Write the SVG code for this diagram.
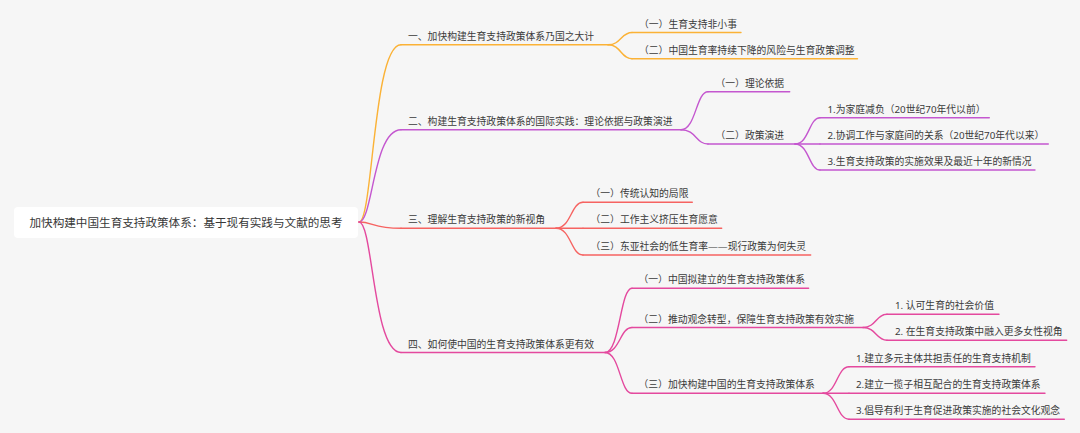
<svg xmlns="http://www.w3.org/2000/svg" width="1080" height="433" viewBox="0 0 1080 433">
<style>
.t{font-family:"Noto Sans","Noto Sans CJK SC",sans-serif;font-size:9.8px;fill:#3a3a3a}
.rt{font-family:"Noto Sans CJK SC","Noto Sans",sans-serif;font-size:11.6px;fill:#383838}
.c path,.u{fill:none;stroke-width:1.4;stroke-linecap:round}
.y{stroke:#fbb236}.p{stroke:#c457cf}.r{stroke:#f66361}.k{stroke:#e4499e}
</style>
<rect width="1080" height="433" fill="#f6f6f6"/>
<g id="connectors" class="c">
<path class="y" d="M359,222 C373,222 373,44.8 401,44.8"/>
<path class="p" d="M359,222 C373,222 373,129.7 401,129.7"/>
<path class="r" d="M359,222 C373,222 373,228.3 401,228.3"/>
<path class="k" d="M359,222 C373,222 373,352.5 401,352.5"/>
<path class="y" d="M608,44.8 C621,44.8 621,32.5 632,32.5"/>
<path class="y" d="M608,44.8 C621,44.8 621,58.7 632,58.7"/>
<path class="p" d="M681,129.7 C696,129.7 696,91.7 708,91.7"/>
<path class="p" d="M681,129.7 C696,129.7 696,144 708,144"/>
<path class="p" d="M795,144 C809,144 809,117.7 820,117.7"/>
<path class="p" d="M795,144 L820,144"/>
<path class="p" d="M795,144 C809,144 809,170 820,170"/>
<path class="r" d="M556,228.3 C571,228.3 571,202.3 583,202.3"/>
<path class="r" d="M556,228.3 L583,228.3"/>
<path class="r" d="M556,228.3 C571,228.3 571,255 583,255"/>
<path class="k" d="M605,352.5 C620,352.5 620,288.3 632,288.3"/>
<path class="k" d="M605,352.5 C620,352.5 620,327.5 632,327.5"/>
<path class="k" d="M605,352.5 C620,352.5 620,393.3 632,393.3"/>
<path class="k" d="M863,327.5 C876,327.5 876,314.3 887,314.3"/>
<path class="k" d="M863,327.5 C876,327.5 876,340.3 887,340.3"/>
<path class="k" d="M823,393.3 C837,393.3 837,366.7 849,366.7"/>
<path class="k" d="M823,393.3 L849,393.3"/>
<path class="k" d="M823,393.3 C837,393.3 837,419.2 849,419.2"/>
</g>
<g id="root">
<rect x="14" y="207" width="344" height="31" rx="4" fill="#ffffff"/>
<text class="rt" x="186" y="227" text-anchor="middle">加快构建中国生育支持政策体系：基于现有实践与文献的思考</text>
</g>
<g id="b1"><line class="u y" x1="401" y1="44.8" x2="608" y2="44.8"/><text class="t" x="408" y="39.8">一、加快构建生育支持政策体系乃国之大计</text></g>
<g id="b1c1"><line class="u y" x1="632" y1="32.5" x2="741" y2="32.5"/><text class="t" x="639" y="27.5">（一）生育支持非小事</text></g>
<g id="b1c2"><line class="u y" x1="632" y1="58.7" x2="857.5" y2="58.7"/><text class="t" x="639" y="53.7">（二）中国生育率持续下降的风险与生育政策调整</text></g>
<g id="b2"><line class="u p" x1="401" y1="129.7" x2="681" y2="129.7"/><text class="t" x="408" y="124.7">二、构建生育支持政策体系的国际实践：理论依据与政策演进</text></g>
<g id="b2c1"><line class="u p" x1="708" y1="91.7" x2="789.7" y2="91.7"/><text class="t" x="715.5" y="86.7">（一）理论依据</text></g>
<g id="b2c2"><line class="u p" x1="708" y1="144" x2="795" y2="144"/><text class="t" x="715.5" y="139">（二）政策演进</text></g>
<g id="b2c2g1"><line class="u p" x1="820" y1="117.7" x2="989.3" y2="117.7"/><text class="t" x="827.5" y="112.7">1.为家庭减负（20世纪70年代以前）</text></g>
<g id="b2c2g2"><line class="u p" x1="820" y1="144" x2="1048.3" y2="144"/><text class="t" x="827.5" y="139">2.协调工作与家庭间的关系（20世纪70年代以来）</text></g>
<g id="b2c2g3"><line class="u p" x1="820" y1="170" x2="1035" y2="170"/><text class="t" x="827.5" y="165">3.生育支持政策的实施效果及最近十年的新情况</text></g>
<g id="b3"><line class="u r" x1="401" y1="228.3" x2="556" y2="228.3"/><text class="t" x="408" y="223.3">三、理解生育支持政策的新视角</text></g>
<g id="b3c1"><line class="u r" x1="583" y1="202.3" x2="692.3" y2="202.3"/><text class="t" x="590.5" y="197.3">（一）传统认知的局限</text></g>
<g id="b3c2"><line class="u r" x1="583" y1="228.3" x2="721.7" y2="228.3"/><text class="t" x="590.5" y="223.3">（二）工作主义挤压生育愿意</text></g>
<g id="b3c3"><line class="u r" x1="583" y1="255" x2="810.7" y2="255"/><text class="t" x="590.5" y="250">（三）东亚社会的低生育率——现行政策为何失灵</text></g>
<g id="b4"><line class="u k" x1="401" y1="352.5" x2="605" y2="352.5"/><text class="t" x="408" y="347.5">四、如何使中国的生育支持政策体系更有效</text></g>
<g id="b4c1"><line class="u k" x1="632" y1="288.3" x2="808.6" y2="288.3"/><text class="t" x="638.5" y="283.3">（一）中国拟建立的生育支持政策体系</text></g>
<g id="b4c2"><line class="u k" x1="632" y1="327.5" x2="863" y2="327.5"/><text class="t" x="638.5" y="322.5">（二）推动观念转型，保障生育支持政策有效实施</text></g>
<g id="b4c2g1"><line class="u k" x1="887" y1="314.3" x2="999" y2="314.3"/><text class="t" x="895" y="309.3">1. 认可生育的社会价值</text></g>
<g id="b4c2g2"><line class="u k" x1="887" y1="340.3" x2="1066.7" y2="340.3"/><text class="t" x="895" y="335.3">2. 在生育支持政策中融入更多女性视角</text></g>
<g id="b4c3"><line class="u k" x1="632" y1="393.3" x2="823" y2="393.3"/><text class="t" x="638.5" y="388.3">（三）加快构建中国的生育支持政策体系</text></g>
<g id="b4c3g1"><line class="u k" x1="849" y1="366.7" x2="1035" y2="366.7"/><text class="t" x="856" y="361.7">1.建立多元主体共担责任的生育支持机制</text></g>
<g id="b4c3g2"><line class="u k" x1="849" y1="393.3" x2="1045" y2="393.3"/><text class="t" x="856" y="388.3">2.建立一揽子相互配合的生育支持政策体系</text></g>
<g id="b4c3g3"><line class="u k" x1="849" y1="419.2" x2="1064.3" y2="419.2"/><text class="t" x="856" y="414.2">3.倡导有利于生育促进政策实施的社会文化观念</text></g>
</svg>
